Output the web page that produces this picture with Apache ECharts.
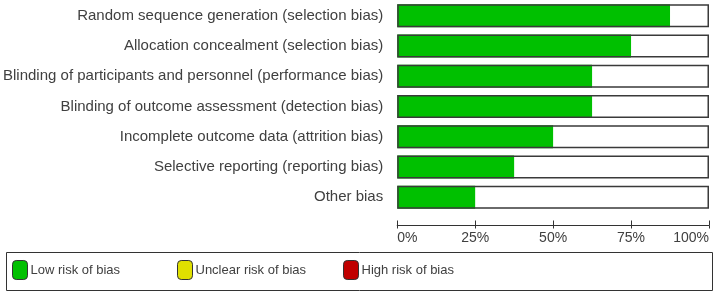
<!DOCTYPE html>
<html lang="en">
<head>
	<meta charset="UTF-8">
	<title>risk-of-bias-graph</title>
	<script src="https://cdn.jsdelivr.net/npm/echarts@6/dist/echarts.min.js"></script>
	<style>
		html, body { margin: 0; padding: 0; background: #fff; }
	</style>
</head>
<body>
	<div id="container" style="width:715px;height:294px;"></div>

	<script>
		// domains, top to bottom
		var domains = [
			'Random sequence generation (selection bias)',
			'Allocation concealment (selection bias)',
			'Blinding of participants and personnel (performance bias)',
			'Blinding of outcome assessment (detection bias)',
			'Incomplete outcome data (attrition bias)',
			'Selective reporting (reporting bias)',
			'Other bias'
		];
		// percentage of studies per judgement
		var lowRisk = [87.5, 75, 62.5, 62.5, 50, 37.5, 25];
		var unclearRisk = [0, 0, 0, 0, 0, 0, 0];
		var highRisk = [0, 0, 0, 0, 0, 0, 0];
		var fullBar = [100, 100, 100, 100, 100, 100, 100];
		var tickValues = [0, 25, 50, 75, 100];

		var dom = document.getElementById('container');
		var myChart = echarts.init(dom);

		var font = "'Liberation Sans', Arial, sans-serif";
		var textColor = '#404040';

		function legendAt(name, left) {
			return {
				data: [name],
				left: left,
				top: 260,
				padding: 0,
				itemWidth: 15,
				itemHeight: 19,
				itemStyle: { borderColor: '#333', borderWidth: 1 },
				textStyle: { fontFamily: font, fontSize: 13, color: textColor, padding: [0, 0, 0, -2] },
				selectedMode: false
			};
		}

		var option = {
			animation: false,
			grid: { left: 397, right: 6, top: 0.5, height: 212 },
			legend: [
				legendAt('Low risk of bias', 12),
				legendAt('Unclear risk of bias', 177),
				legendAt('High risk of bias', 343)
			],
			xAxis: [{
				type: 'value',
				min: 0, max: 100, interval: 25,
				position: 'bottom',
				offset: 13,
				splitLine: { show: false },
				axisLine: { show: true, lineStyle: { color: '#333', width: 1 } },
				axisTick: { show: true, inside: false, length: 3, lineStyle: { color: '#333' } },
				axisLabel: {
					margin: 6,
					fontFamily: font, fontSize: 14, color: textColor,
					alignMinLabel: 'left', alignMaxLabel: 'right',
					formatter: function (v) { return tickValues.indexOf(v) >= 0 ? v + '%' : ''; }
				}
			}, {
				type: 'value',
				min: 0, max: 100, interval: 25,
				position: 'bottom',
				offset: 13,
				splitLine: { show: false },
				axisLine: { show: false },
				axisTick: { show: true, inside: true, length: 5, lineStyle: { color: '#333' } },
				axisLabel: { show: false }
			}],
			yAxis: {
				type: 'category',
				inverse: true,
				data: domains,
				axisLine: { show: false },
				axisTick: { show: false },
				axisLabel: { margin: 14, fontFamily: font, fontSize: 15, color: textColor }
			},
			series: [{
				name: 'Low risk of bias',
				type: 'bar',
				stack: 'rob',
				data: lowRisk,
				barCategoryGap: '24%',
				barGap: '-100%',
				itemStyle: { color: '#00c000' }
			}, {
				name: 'Unclear risk of bias',
				type: 'bar',
				stack: 'rob',
				data: unclearRisk,
				barGap: '-100%',
				itemStyle: { color: '#e0e000' }
			}, {
				name: 'High risk of bias',
				type: 'bar',
				stack: 'rob',
				data: highRisk,
				barGap: '-100%',
				itemStyle: { color: '#c00000' }
			}, {
				name: 'outline',
				type: 'bar',
				data: fullBar,
				barCategoryGap: '24%',
				barGap: '-100%',
				silent: true,
				z: 3,
				itemStyle: { color: 'rgba(0,0,0,0)', borderColor: '#3a3a3a', borderWidth: 1.5 }
			}],
			graphic: [{
				type: 'rect',
				left: 4, top: 250,
				shape: { width: 706, height: 38 },
				style: { fill: 'none', stroke: '#333', lineWidth: 1 }
			}]
		};

		myChart.setOption(option);
	</script>
</body>
</html>
